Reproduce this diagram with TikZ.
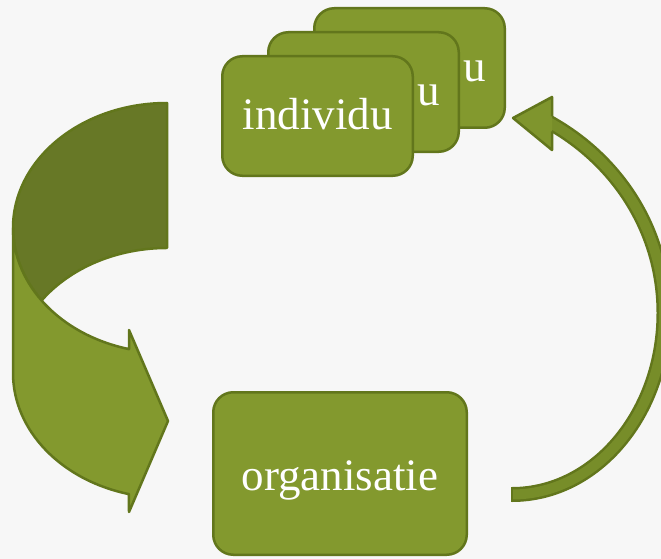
\documentclass[tikz,border=0pt]{standalone}
\usepackage{fontspec}
\setmainfont{Liberation Serif}
\definecolor{boxfill}{HTML}{83992E}
\definecolor{boxline}{HTML}{62761C}
\definecolor{darkpart}{HTML}{677826}
\definecolor{bandfill}{HTML}{778D29}
\definecolor{headfill}{HTML}{7F952D}
\definecolor{bg}{HTML}{F7F7F7}
\begin{document}
\begin{tikzpicture}[x=1pt,y=-1pt,
  box/.style={draw=boxline, fill=boxfill, line width=2.5pt, rounded corners=20pt,
    minimum width=190.5pt, minimum height=119.5pt, inner sep=0pt, anchor=north west},
  lbl/.style={text=white, font=\fontsize{45}{50}\selectfont, inner sep=0pt, anchor=base},
  shapeline/.style={draw=boxline, line width=2.5pt, line join=round}]
\fill[bg] (0,0) rectangle (661,559);
\useasboundingbox (0,0) rectangle (661,559);

% stacked individu boxes
\node[box] (ind3) at (313,7) {};
\node[lbl, yshift=-14pt] (t3) at (ind3.center) {individ\kern3.5pt u};
\node[box] (ind2) at (267,31) {};
\node[lbl, yshift=-14pt] (t2) at (ind2.center) {individ\kern3.5pt u};
\node[box] (ind1) at (221,55) {};
\node[lbl, yshift=-14pt] (t1) at (ind1.center) {individu};

% organisatie box
\node[box, minimum width=253.5pt, minimum height=162.5pt] (org) at (212,391) {};
\node[lbl, yshift=-16.5pt] (torg) at (org.center) {organisatie};

% left curved arrow: back (dark) part
\filldraw[shapeline, fill=darkpart] (167,103)
  arc[start angle=270, end angle=144.55, x radius=154, y radius=125]
  arc[start angle=215.45, end angle=270, x radius=154, y radius=125] -- cycle;
% left curved arrow: front part with head
\filldraw[shapeline, fill=boxfill] (13,228) -- (13,373)
  arc[start angle=180, end angle=104.3, x radius=154, y radius=125]
  -- (129,512) -- (168,421) -- (129,330) -- (129,349.1)
  arc[start angle=104.3, end angle=180, x radius=154, y radius=125] -- cycle;

% right curved arrow
\coordinate (rtail) at (512,494.5);
\coordinate (rmid) at (664,313);
\coordinate (rhead) at (552,124);
\coordinate (rtip) at (513,118);
\draw[draw=boxline, line width=2.5pt, double=bandfill, double distance=10pt]
  (rtail) .. controls (596,494.5) and (664,413) .. (rmid)
  .. controls (664,233) and (620,163) .. (rhead) -- (545,120);
\draw[boxline, line width=2.5pt] (512,487) -- (512,502);
\fill[headfill] (rtip) -- (552,97) -- (552,150) -- cycle;
\draw[shapeline] (552,116.5) -- (552,97) -- (rtip) -- (552,150) -- (552,131.5);
\end{tikzpicture}
\end{document}
